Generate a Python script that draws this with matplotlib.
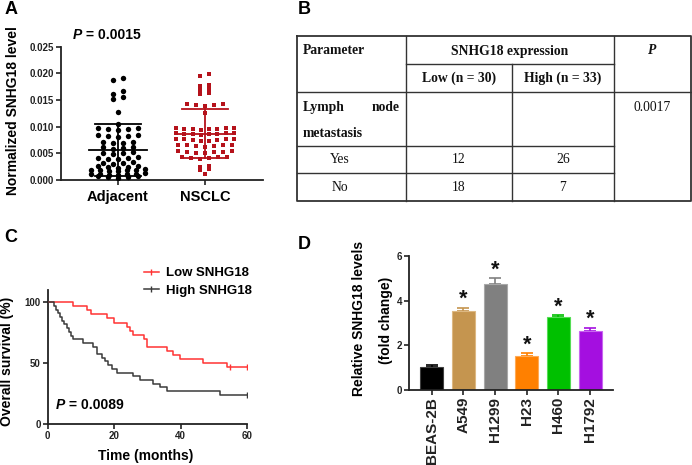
import numpy as np
import matplotlib
matplotlib.use('Agg')
import matplotlib.pyplot as plt
from matplotlib.lines import Line2D

plt.rcParams['font.family'] = ['Liberation Sans', 'DejaVu Sans']
plt.rcParams['font.weight'] = 'bold'

W, H = 692, 465

# ---------------- Panel A data ----------------
groups_a = ['Adjacent', 'NSCLC']
adjacent = [0.0192, 0.0188, 0.0166, 0.0162, 0.0156, 0.0152, 0.0127, 0.0105,
            0.0098, 0.0097, 0.0096, 0.0095, 0.0094,
            0.0085, 0.0084, 0.0083, 0.0082, 0.0081,
            0.0072, 0.0071, 0.0070, 0.0069,
            0.0062, 0.0061, 0.0060, 0.0059,
            0.0052, 0.0051, 0.0050, 0.0049,
            0.0043, 0.0042, 0.0041, 0.0040, 0.0039,
            0.0033, 0.0032, 0.0031, 0.0030,
            0.0027, 0.0026, 0.0025, 0.0024, 0.0023,
            0.0020, 0.0019, 0.0019, 0.0018, 0.0018, 0.0017, 0.0016,
            0.0013, 0.0012, 0.0012, 0.0011, 0.0011, 0.0010, 0.0009,
            0.0008, 0.0007, 0.0006, 0.0005, 0.0004]
nsclc = [0.0199, 0.0195, 0.0178, 0.0177, 0.0171, 0.0169, 0.0163, 0.0161,
         0.0143, 0.0142, 0.0141, 0.0140, 0.0139, 0.0125,
         0.0098, 0.0097, 0.0097, 0.0096, 0.0096, 0.0095, 0.0095, 0.0094,
         0.0089, 0.0088, 0.0088, 0.0087, 0.0087, 0.0086, 0.0086, 0.0085,
         0.0077, 0.0077, 0.0076, 0.0076, 0.0075, 0.0075, 0.0074, 0.0073,
         0.0066, 0.0066, 0.0065, 0.0065, 0.0064, 0.0063, 0.0062,
         0.0054, 0.0054, 0.0053, 0.0052, 0.0052, 0.0051, 0.0050,
         0.0044, 0.0043, 0.0043, 0.0042, 0.0041, 0.0040,
         0.0027, 0.0025, 0.0020, 0.0018, 0.0012]
yticks_a = [0.000, 0.005, 0.010, 0.015, 0.020, 0.025]
p_a = '0.0015'

# ---------------- Panel B data ----------------
tbl_header = ['Parameter', 'SNHG18 expression', 'P']
tbl_sub = ['Low (n = 30)', 'High (n = 33)']
tbl_param = ['Lymph', 'node', 'metastasis']
tbl_rows = ['Yes', 'No']
tbl_low = [12, 18]
tbl_high = [26, 7]
tbl_p = '0.0017'

# ---------------- Panel C data ----------------
low_t = [0, 7.5, 11.9, 12.9, 17.9, 19.9, 23.7, 24.7, 25.7, 28.8, 29.8, 35.8, 37.8,
         39.8, 46.8, 53.8, 60]
low_s = [100, 96.7, 93.3, 90.0, 86.7, 83.3, 80.0, 76.7, 73.3, 70.0, 63.3, 60.0, 56.7,
         53.3, 50.0, 46.7, 46.7]
low_cens_t = [54.8, 60]
high_t = [0, 1.8, 2.5, 3.2, 3.7, 4.2, 5.0, 5.7, 6.3, 7.0, 7.7, 10.7, 13.7, 14.7, 16.2,
          17.2, 18.2, 19.2, 20.7, 25.7, 27.7, 31.8, 33.8, 35.8, 51.8, 60]
high_s = [100, 97.0, 93.9, 90.9, 87.9, 84.8, 81.8, 78.8, 75.8, 72.7, 69.7, 66.7, 63.6,
          57.6, 54.5, 51.5, 48.5, 45.5, 42.4, 39.4, 36.4, 33.3, 30.3, 27.3, 24.2, 24.2]
high_cens_t = [60]
km_labels = ['Low SNHG18', 'High SNHG18']
p_c = '0.0089'

# ---------------- Panel D data ----------------
cell_lines = ['BEAS-2B', 'A549', 'H1299', 'H23', 'H460', 'H1792']
levels = [1.03, 3.54, 4.75, 1.52, 3.26, 2.65]
errs = [0.07, 0.15, 0.25, 0.12, 0.08, 0.14]
bar_colors = ['#000000', '#C5954F', '#808080', '#FF8000', '#00C000', '#A40FE0']
edge_colors = ['#404040', '#DDB882', '#A8A8A8', '#FFAA55', '#55DD55', '#C866F0']

fig = plt.figure(figsize=(W / 100, H / 100), dpi=100)


def rect(l, t, r, b):
    return [l / W, 1 - b / H, (r - l) / W, (b - t) / H]


def fpos(x, y):
    return x / W, 1 - y / H


def style_axes(ax, lw=1.3):
    for s in ['top', 'right']:
        ax.spines[s].set_visible(False)
    for s in ['left', 'bottom']:
        ax.spines[s].set_linewidth(lw)
        ax.spines[s].set_color('#222222')
    ax.tick_params(direction='out', length=3.5, width=1.2, colors='#222222', labelsize=7,
                   pad=1.5)
    for lab in ax.get_xticklabels() + ax.get_yticklabels():
        lab.set_fontweight('bold')


# ---------------- Panel A ----------------
axA = fig.add_axes(rect(61, 46.7, 263, 180))
axA.set_xlim(-0.655, 1.667)
axA.set_ylim(0, 0.025)
ppu_x = 87.0


def row_layout(vals, row_h, sp_max, width_px):
    """Group sorted values into rows (GraphPad-style scatter) and spread each row."""
    vals = np.asarray(vals, dtype=float)
    order = np.argsort(-vals)
    xs = np.zeros(len(vals))
    rows = []
    cur = []
    for i in order:
        if cur and vals[cur[0]] - vals[i] > row_h:
            rows.append(cur)
            cur = []
        cur.append(i)
    if cur:
        rows.append(cur)
    for r in rows:
        n = len(r)
        sp = sp_max if n < 2 else min(sp_max, width_px / (n - 1))
        asc = sorted(r, key=lambda k: vals[k])
        slots = sorted(range(n), key=lambda s: abs(s - (n - 1) / 2))
        for k, s in zip(asc, slots):
            xs[k] = (s - (n - 1) / 2) * sp
    return xs / ppu_x


for gi, (vals, col, mk, spm, wid, sz) in enumerate([(adjacent, '#000000', 'o', 10, 54, 15),
                                                    (nsclc, '#B5121B', 's', 9, 58, 12)]):
    offs = row_layout(vals, 0.00045, spm, wid)
    axA.scatter(gi + offs, vals, s=sz, marker=mk, color=col, linewidths=0, zorder=3)
    m = np.mean(vals)
    sd = np.std(vals, ddof=1)
    axA.plot([gi - 0.33, gi + 0.33], [m, m], color=col, lw=1.3, zorder=4)
    axA.plot([gi, gi], [max(m - sd, 0), m + sd], color=col, lw=1.3, zorder=4)
    for v in [m - sd, m + sd]:
        if v > 0:
            axA.plot([gi - 0.26, gi + 0.26], [v, v], color=col, lw=1.3, zorder=4)

axA.set_yticks(yticks_a)
axA.set_yticklabels(['%.3f' % v for v in yticks_a])
axA.set_xticks([0, 1])
axA.set_xticklabels(['', ''])
style_axes(axA)
for gi, g in enumerate(groups_a):
    fig.text(*fpos(118 + 87 * gi, 197), g, ha='center', va='center', fontsize=10.5,
             fontweight='bold')
fig.text(*fpos(13, 111), 'Normalized SNHG18 level', rotation=90, ha='center',
         va='center', fontsize=10, fontweight='bold')
tA = fig.text(*fpos(73, 35), 'P', ha='left', va='center', fontsize=10, fontweight='bold',
              fontstyle='italic')
axA.annotate(' = ' + p_a, xy=(1, 0.5), xycoords=tA, ha='left', va='center', fontsize=10,
             fontweight='bold', annotation_clip=False)

# ---------------- Panel B (table) ----------------
ov = fig.add_axes([0, 0, 1, 1], zorder=-1)
ov.set_xlim(0, W)
ov.set_ylim(H, 0)
ov.axis('off')
cx = [296.7, 406, 512, 614, 690.5]
ry = [36, 64, 91.7, 145.7, 173.3, 201.3]
lc = '#333333'
ov.plot([cx[0], cx[4], cx[4], cx[0], cx[0]], [ry[0], ry[0], ry[5], ry[5], ry[0]], color=lc,
        lw=1.3)
ov.plot([cx[1], cx[1]], [ry[0], ry[5]], color=lc, lw=1.0)
ov.plot([cx[3], cx[3]], [ry[0], ry[5]], color=lc, lw=1.0)
ov.plot([cx[2], cx[2]], [ry[1], ry[5]], color=lc, lw=1.0)
ov.plot([cx[1], cx[3]], [ry[1], ry[1]], color=lc, lw=1.0)
ov.plot([cx[0], cx[4]], [ry[2], ry[2]], color=lc, lw=1.0)
ov.plot([cx[0], cx[3]], [ry[3], ry[3]], color=lc, lw=1.0)
ov.plot([cx[0], cx[3]], [ry[4], ry[4]], color=lc, lw=1.0)

serif = ['Liberation Serif', 'DejaVu Serif']
tk = dict(family=serif, fontsize=9.8, fontweight='bold', va='center', color='#111111')
ov.text(303, 51, tbl_header[0], ha='left', **tk)
ov.text((cx[1] + cx[3]) / 2, 51, tbl_header[1], ha='center', **tk)
ov.text(652.5, 51, tbl_header[2], ha='center', fontstyle='italic', **tk)
ov.text((cx[1] + cx[2]) / 2, 78, tbl_sub[0], ha='center', **tk)
ov.text((cx[2] + cx[3]) / 2, 78, tbl_sub[1], ha='center', **tk)
ov.text(303, 107, tbl_param[0], ha='left', **tk)
ov.text(400, 107, tbl_param[1], ha='right', **tk)
ov.text(303, 133, tbl_param[2], ha='left', **tk)
tr = dict(tk)
tr['fontweight'] = 'normal'
ov.text(652.5, 107, tbl_p, ha='center', **tr)
for i, (lab, lo, hi) in enumerate(zip(tbl_rows, tbl_low, tbl_high)):
    yy = (ry[3 + i] + ry[4 + i]) / 2
    ov.text(340, yy, lab, ha='center', **tr)
    ov.text((cx[1] + cx[2]) / 2, yy, str(lo), ha='center', **tr)
    ov.text((cx[2] + cx[3]) / 2, yy, str(hi), ha='center', **tr)

# ---------------- Panel C ----------------
axC = fig.add_axes(rect(47.7, 290, 247.3, 424.3))
axC.set_xlim(0, 60)
axC.set_ylim(0, 110)
red = '#FF3333'
dark = '#3A3A3A'
axC.step(low_t, low_s, where='post', color=red, lw=1.1, zorder=3)
axC.step(high_t, high_s, where='post', color=dark, lw=1.1, zorder=3)
axC.plot(low_cens_t, [low_s[-1]] * len(low_cens_t), ls='none', marker='|', ms=5,
         mew=1.0, color=red, zorder=3)
axC.plot(high_cens_t, [high_s[-1]] * len(high_cens_t), ls='none', marker='|', ms=5,
         mew=1.0, color=dark, zorder=3)
axC.set_xticks([0, 20, 40, 60])
axC.set_yticks([0, 50, 100])
style_axes(axC)
handles = [Line2D([], [], color=red, lw=1.1, marker='|', ms=4, mew=1.0),
           Line2D([], [], color=dark, lw=1.1, marker='|', ms=4, mew=1.0)]
axC.legend(handles, km_labels, loc='upper left', bbox_to_anchor=fpos(144, 267),
           bbox_transform=fig.transFigure, frameon=False, borderpad=0, borderaxespad=0,
           handlelength=1.1, handletextpad=0.6, labelspacing=0.4,
           prop={'weight': 'bold', 'size': 9.5})
fig.text(*fpos(7, 361), 'Overall survival (%)', rotation=90, ha='center', va='center',
         fontsize=10, fontweight='bold')
fig.text(*fpos(146, 456), 'Time (months)', ha='center', va='center', fontsize=10,
         fontweight='bold')
tC = fig.text(*fpos(56, 405), 'P', ha='left', va='center', fontsize=10, fontweight='bold',
              fontstyle='italic')
axC.annotate(' = ' + p_c, xy=(1, 0.5), xycoords=tC, ha='left', va='center', fontsize=10,
             fontweight='bold', annotation_clip=False)

# ---------------- Panel D ----------------
axD = fig.add_axes(rect(409, 256, 612.7, 390))
axD.set_xlim(-0.716, 5.71)
axD.set_ylim(0, 6)
x = np.arange(len(cell_lines))
axD.bar(x, levels, width=0.72, color=bar_colors, edgecolor=edge_colors, linewidth=0.8,
        zorder=2)
for xi, v, e, c in zip(x, levels, errs, bar_colors):
    axD.errorbar([xi], [v], yerr=[[0], [e]], color=c, capsize=4, capthick=1.2, elinewidth=1.2,
                 zorder=1)
    if xi > 0:
        axD.text(xi, v + e + 0.12, '*', ha='center', va='baseline', fontsize=15.5,
                 fontweight='bold', color='#111111')
axD.set_yticks([0, 2, 4, 6])
axD.set_xticks(x)
axD.set_xticklabels(cell_lines, rotation=90)
style_axes(axD)
for lab in axD.get_xticklabels():
    lab.set_fontsize(11)
fig.text(*fpos(359, 318), 'Relative SNHG18 levels', rotation=90, ha='center', va='center',
         fontsize=10, fontweight='bold')
fig.text(*fpos(386, 320), '(fold change)', rotation=90, ha='center', va='center',
         fontsize=10, fontweight='bold')

# ---------------- Panel letters ----------------
for lab, (lx, ly) in zip('ABCD', [(11, 9), (304, 9), (11, 237), (304, 244)]):
    fig.text(*fpos(lx, ly), lab, ha='center', va='center', fontsize=13, fontweight='bold')

fig.savefig('out.png', dpi=100)
